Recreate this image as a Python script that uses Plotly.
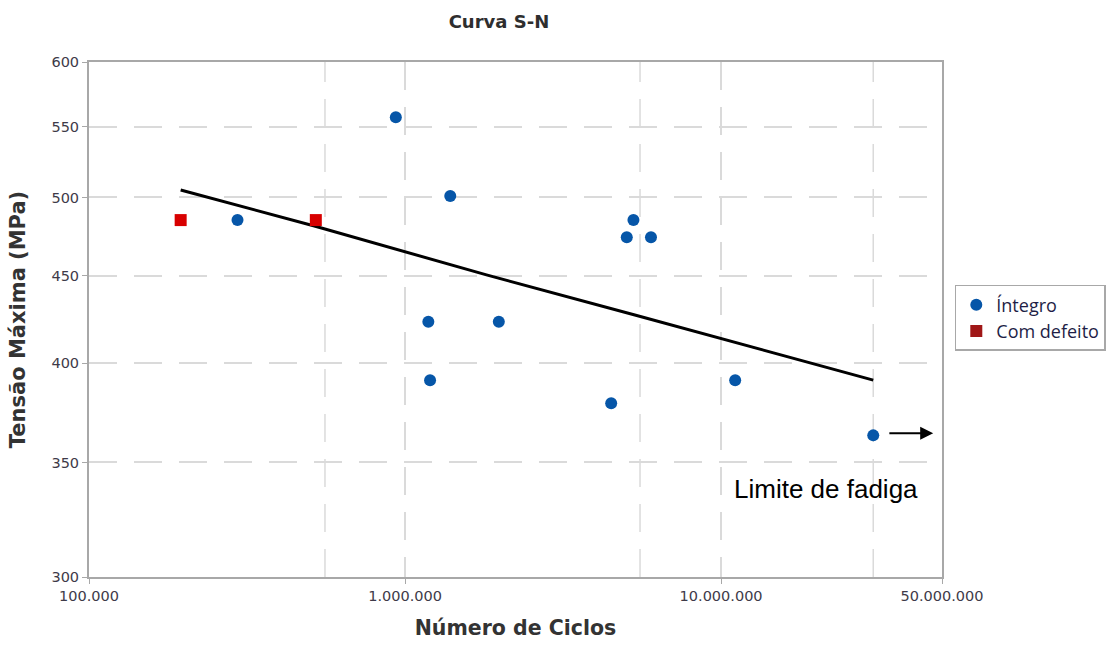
import math
import plotly.graph_objects as go

# Fatigue test results: cycles to failure vs. maximum stress
integro_ciclos = [2.95e5, 9.35e5, 1.39e6, 1.185e6, 1.2e6, 1.98e6, 5.28e6, 5.03e6, 6.0e6, 4.49e6, 1.108e7, 3.03e7]
integro_tensao = [485, 557, 501, 423, 391, 423, 485, 474, 474, 379, 391, 363]

defeito_ciclos = [1.95e5, 5.22e5]
defeito_tensao = [485, 485]

# S-N fitted curve
curva_ciclos = [1.95e5, 5.2e5, 1.81e6, 5.3e6, 3.03e7]
curva_tensao = [505, 481, 450.5, 427, 391]

x_tick_vals = [1e5, 1e6, 1e7, 5e7]
x_tick_text = ["100.000", "1.000.000", "10.000.000", "50.000.000"]
y_tick_vals = [300, 350, 400, 450, 500, 550, 600]
y_tick_text = ["300", "350", "400", "450", "500", "550", "600"]

# additional vertical reference lines
grid_extra_x = [5.58e5, 5.54e6, 3.03e7]

# run-out arrow (tail -> head) and its caption, in data units
seta_inicio = (3.37e7, 364)
seta_fim = (4.69e7, 364)
legenda_limite = (2.15e7, 337.5)

AZUL = "#0656A8"
VERMELHO = "#D80000"
VERMELHO_LEG = "#A01717"
GRID = "#DADADA"
DASH = "28px,17px"

fig = go.Figure()

fig.add_trace(go.Scatter(
    x=curva_ciclos, y=curva_tensao, mode="lines",
    line=dict(color="black", width=3), showlegend=False, hoverinfo="skip",
))
fig.add_trace(go.Scatter(
    x=integro_ciclos, y=integro_tensao, mode="markers", name="Íntegro",
    marker=dict(symbol="circle", size=12, color=AZUL),
))
fig.add_trace(go.Scatter(
    x=defeito_ciclos, y=defeito_tensao, mode="markers", name="Com defeito",
    marker=dict(symbol="square", size=12, color=VERMELHO), showlegend=False,
))
# legend entry for the defective specimens
fig.add_trace(go.Scatter(
    x=[None], y=[None], mode="markers", name="Com defeito",
    marker=dict(symbol="square", size=12, color=VERMELHO_LEG),
))

for gx in grid_extra_x:
    fig.add_shape(type="line", xref="x", yref="paper", x0=gx, x1=gx, y0=0, y1=1,
                  line=dict(color=GRID, width=1.5, dash=DASH), layer="below")

# annotations on log axes are positioned in log10 units
fig.add_annotation(
    x=math.log10(seta_fim[0]), y=math.log10(seta_fim[1]),
    ax=math.log10(seta_inicio[0]), ay=math.log10(seta_inicio[1]),
    xref="x", yref="y", axref="x", ayref="y",
    showarrow=True, arrowhead=2, arrowsize=1.3, arrowwidth=2, arrowcolor="black", text="",
)
fig.add_annotation(
    x=math.log10(legenda_limite[0]), y=math.log10(legenda_limite[1]), xref="x", yref="y",
    text="Limite de fadiga", showarrow=False, xanchor="center", yanchor="middle",
    font=dict(family="Liberation Sans, Arial, sans-serif", size=26, color="black"),
)

axis_common = dict(
    showline=True, linecolor="#A8A8A8", linewidth=2, mirror=True,
    showgrid=True, gridcolor=GRID, gridwidth=1.5, griddash=DASH,
    ticks="outside", ticklen=5, tickcolor="#A8A8A8", zeroline=False,
    tickfont=dict(family="DejaVu Sans, sans-serif", size=14.5, color="#3E3A48"),
)

fig.update_xaxes(
    type="log", range=[5, 7.69897], tickvals=x_tick_vals, ticktext=x_tick_text,
    title=dict(text="Número de Ciclos", standoff=17,
               font=dict(family="DejaVu Sans, sans-serif", size=20.5, color="#333333", weight="bold")),
    **axis_common,
)
fig.update_yaxes(
    type="log", range=[2.4771213, 2.7781513], tickvals=y_tick_vals, ticktext=y_tick_text,
    title=dict(text="Tensão Máxima (MPa)", standoff=20,
               font=dict(family="DejaVu Sans, sans-serif", size=21, color="#333333", weight="bold")),
    **axis_common,
)

fig.update_layout(
    width=1110, height=645,
    margin=dict(l=89, r=168, t=62, b=68, autoexpand=False),
    paper_bgcolor="white", plot_bgcolor="white",
    title=dict(text="Curva S-N", x=0.4495, xanchor="center", y=0.967, yanchor="middle",
               font=dict(family="DejaVu Sans, sans-serif", size=18, color="#2E2E2E", weight="bold")),
    legend=dict(
        x=1.015, y=0.567, xanchor="left", yanchor="top",
        bordercolor="#A8A8A8", borderwidth=1.5, bgcolor="white",
        font=dict(family="Open Sans, sans-serif", size=18, color="#1E1E46"),
        itemsizing="constant", tracegroupgap=0,
    ),
)

fig.write_html("out.html")
